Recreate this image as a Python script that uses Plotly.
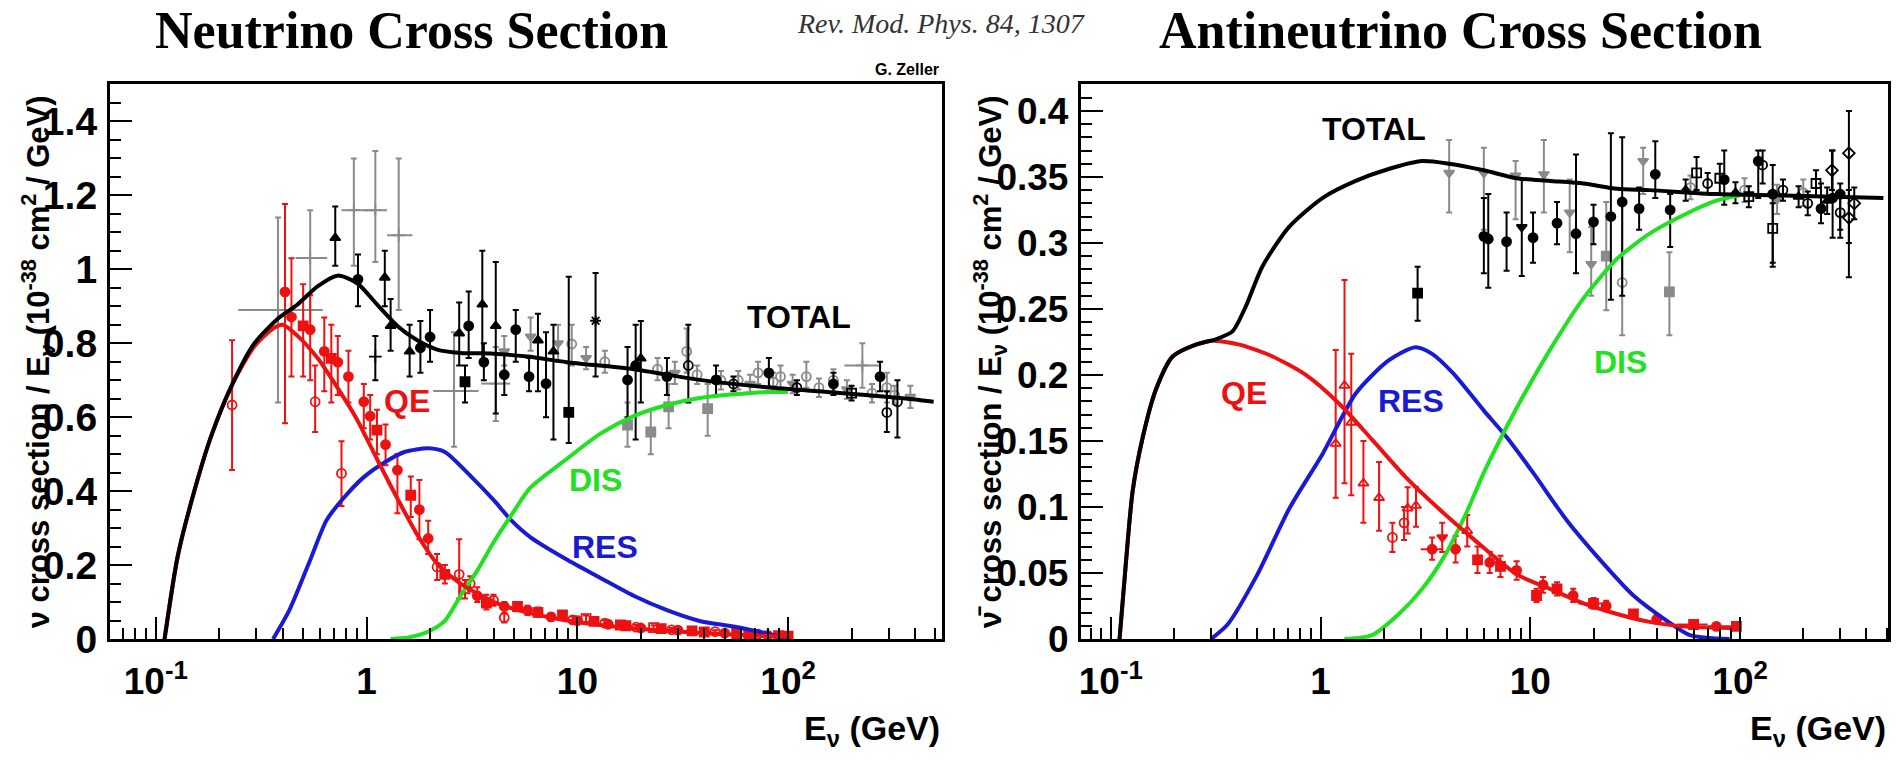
import numpy as np
import plotly.graph_objects as go

# ---------------- Neutrino (left panel) ----------------
nu_total_E = [0.11, 0.127, 0.152, 0.182, 0.227, 0.292, 0.378, 0.47, 0.585, 0.727, 0.9, 1.12, 1.4, 1.74, 2.16, 2.79, 4.0, 5.8, 8.9, 18.5, 38, 79, 164, 340, 490]
nu_total_v = [0, 0.224, 0.399, 0.545, 0.681, 0.798, 0.866, 0.905, 0.954, 0.983, 0.963, 0.905, 0.847, 0.808, 0.783, 0.774, 0.772, 0.764, 0.749, 0.730, 0.701, 0.681, 0.667, 0.652, 0.642]

nu_qe_E = [0.11, 0.127, 0.152, 0.182, 0.227, 0.292, 0.36, 0.40, 0.47, 0.585, 0.727, 0.90, 1.12, 1.40, 1.74, 2.16, 2.79, 4.02, 5.78, 8, 12, 20, 35, 60, 100]
nu_qe_v = [0, 0.224, 0.399, 0.545, 0.681, 0.79, 0.84, 0.85, 0.82, 0.76, 0.68, 0.594, 0.487, 0.38, 0.282, 0.204, 0.15, 0.100, 0.072, 0.055, 0.04, 0.027, 0.018, 0.011, 0.006]

nu_res_E = [0.36, 0.43, 0.54, 0.645, 0.774, 0.97, 1.21, 1.51, 1.96, 2.35, 3.15, 4.02, 4.86, 6.0, 8.9, 12.8, 18.5, 26.6, 38, 55, 79, 98]
nu_res_v = [0, 0.078, 0.214, 0.321, 0.38, 0.438, 0.477, 0.506, 0.516, 0.506, 0.438, 0.375, 0.321, 0.275, 0.215, 0.166, 0.117, 0.078, 0.049, 0.034, 0.015, 0.0]

nu_dis_E = [1.3, 1.6, 1.96, 2.35, 2.79, 3.35, 4.02, 4.86, 6.0, 8.9, 12.8, 18.5, 26.6, 38, 55, 79, 100]
nu_dis_v = [0, 0.005, 0.02, 0.049, 0.117, 0.185, 0.263, 0.335, 0.41, 0.487, 0.555, 0.603, 0.633, 0.652, 0.662, 0.668, 0.668]

# QE measurements (red)
nu_red_E = [0.23, 0.41, 0.44, 0.50, 0.54, 0.57, 0.63, 0.68, 0.73, 0.76, 0.82, 0.97, 1.04, 1.12, 1.23, 1.40, 1.62, 1.78, 1.96, 2.16, 2.35, 2.75, 2.93, 3.1, 3.35, 3.7, 4.0, 4.5, 4.5, 5.2, 5.8, 6.5, 7.5, 8.5, 9.5, 10, 11, 12, 13.5, 14, 16, 17, 19, 20, 23, 25, 28, 30, 35, 40, 45, 50, 57, 65, 72, 80, 90, 100]
nu_red_y = [0.633, 0.939, 0.871, 0.847, 0.837, 0.642, 0.778, 0.759, 0.749, 0.448, 0.71, 0.642, 0.603, 0.565, 0.526, 0.457, 0.389, 0.350, 0.272, 0.195, 0.175, 0.175, 0.136, 0.150, 0.117, 0.097, 0.105, 0.088, 0.058, 0.088, 0.078, 0.072, 0.060, 0.065, 0.052, 0.050, 0.055, 0.048, 0.043, 0.040, 0.038, 0.036, 0.032, 0.030, 0.031, 0.028, 0.025, 0.024, 0.022, 0.019, 0.020, 0.016, 0.015, 0.012, 0.013, 0.010, 0.009, 0.008]
nu_red_lo = [0.457, 0.584, 0.71, 0.71, 0.70, 0.56, 0.67, 0.64, 0.66, 0.36, 0.64, 0.57, 0.54, 0.50, 0.47, 0.34, 0.33, 0.27, 0.23, 0.16, 0.15, 0.11, 0.11, 0.13, 0.10, 0.08, 0.09, 0.07, 0.045, 0.075, 0.065, 0.06, 0.05, 0.055, 0.043, 0.04, 0.046, 0.04, 0.035, 0.033, 0.031, 0.03, 0.026, 0.024, 0.025, 0.023, 0.02, 0.02, 0.018, 0.015, 0.016, 0.013, 0.012, 0.009, 0.010, 0.008, 0.007, 0.006]
nu_red_hi = [0.808, 1.177, 1.03, 0.96, 0.93, 0.74, 0.87, 0.85, 0.82, 0.535, 0.78, 0.69, 0.66, 0.62, 0.58, 0.50, 0.44, 0.43, 0.32, 0.23, 0.20, 0.27, 0.16, 0.17, 0.14, 0.12, 0.12, 0.10, 0.07, 0.10, 0.09, 0.085, 0.07, 0.075, 0.061, 0.06, 0.064, 0.056, 0.051, 0.047, 0.045, 0.042, 0.038, 0.036, 0.037, 0.033, 0.030, 0.028, 0.026, 0.023, 0.024, 0.019, 0.018, 0.015, 0.016, 0.012, 0.011, 0.010]
nu_red_sym = ["circle-open", "circle", "circle", "square", "circle", "circle-open", "circle", "square", "circle", "circle-open", "circle", "circle", "circle", "square", "circle", "circle", "square", "circle", "circle", "circle-open", "square", "circle-open", "square-open", "circle-open", "circle", "square", "circle-open", "circle", "circle-open", "square", "circle", "square", "circle", "square", "circle-open", "circle", "square-open", "square", "circle-open", "circle", "square", "square", "circle-open", "circle", "square-open", "square", "circle-open", "circle", "square", "square", "circle-open", "circle", "square", "square", "circle-open", "circle", "square", "square"]

# black measurements
nu_blk_E = [0.71, 0.91, 1.1, 1.22, 1.3, 1.6, 1.8, 2.0, 2.75, 2.93, 3.05, 3.54, 3.6, 4.1, 4.5, 5.1, 5.9, 6.5, 7.1, 7.7, 9.1, 12.2, 17.3, 18.9, 20, 26.6, 33.6, 45.5, 55, 81, 110, 164, 200, 273, 294, 330]
nu_blk_y = [1.085, 0.973, 0.764, 0.978, 0.847, 0.778, 0.788, 0.817, 0.827, 0.696, 0.847, 0.905, 0.749, 0.847, 0.715, 0.837, 0.71, 0.808, 0.691, 0.778, 0.613, 0.861, 0.701, 0.740, 0.759, 0.71, 0.74, 0.701, 0.69, 0.72, 0.68, 0.69, 0.665, 0.71, 0.613, 0.642]
nu_blk_lo = [1.01, 0.90, 0.70, 0.90, 0.78, 0.71, 0.72, 0.75, 0.74, 0.64, 0.76, 0.75, 0.70, 0.61, 0.66, 0.75, 0.67, 0.67, 0.60, 0.54, 0.53, 0.71, 0.60, 0.54, 0.64, 0.66, 0.64, 0.66, 0.67, 0.68, 0.66, 0.66, 0.645, 0.67, 0.56, 0.545]
nu_blk_hi = [1.17, 1.04, 0.82, 1.05, 0.92, 0.85, 0.86, 0.89, 0.91, 0.74, 0.94, 1.05, 0.80, 1.02, 0.77, 0.89, 0.76, 0.88, 0.83, 0.85, 0.98, 0.99, 0.79, 0.85, 0.86, 0.76, 0.85, 0.74, 0.71, 0.76, 0.70, 0.72, 0.685, 0.75, 0.67, 0.70]
nu_blk_sym = ["triangle-up", "circle", "cross-thin-open", "triangle-up", "triangle-up", "triangle-up", "circle", "circle", "triangle-up", "square", "circle", "triangle-up", "circle", "triangle-up", "circle", "circle", "circle", "triangle-up", "circle", "triangle-up", "square", "asterisk-open", "circle", "circle", "triangle-up", "circle", "circle-open", "circle", "circle-open", "circle", "circle-open", "circle", "square-open", "circle", "circle-open", "circle-open"]

# grey measurements
nu_gry_E = [0.38, 0.54, 0.87, 1.1, 1.42, 2.6, 4.1, 4.5, 6.0, 8.1, 9.4, 11, 13.5, 17.3, 22.3, 24, 27.1, 29, 33, 37, 41.5, 48, 58, 66, 72, 85, 92, 105, 122, 140, 164, 190, 225, 250, 294, 320, 380]
nu_gry_y = [0.89, 1.031, 1.16, 1.16, 1.092, 0.671, 0.691, 0.778, 0.818, 0.80, 0.798, 0.76, 0.75, 0.579, 0.56, 0.73, 0.628, 0.72, 0.778, 0.715, 0.623, 0.70, 0.70, 0.69, 0.72, 0.695, 0.71, 0.69, 0.71, 0.68, 0.70, 0.675, 0.74, 0.665, 0.68, 0.66, 0.655]
nu_gry_lo = [0.64, 0.89, 1.01, 1.02, 0.89, 0.52, 0.59, 0.74, 0.78, 0.75, 0.74, 0.73, 0.72, 0.52, 0.50, 0.70, 0.57, 0.69, 0.72, 0.69, 0.55, 0.675, 0.675, 0.665, 0.69, 0.67, 0.68, 0.665, 0.68, 0.655, 0.67, 0.65, 0.68, 0.64, 0.64, 0.635, 0.625]
nu_gry_hi = [1.14, 1.16, 1.30, 1.32, 1.30, 0.83, 0.79, 0.82, 0.87, 0.85, 0.85, 0.79, 0.78, 0.64, 0.62, 0.76, 0.69, 0.75, 0.84, 0.74, 0.69, 0.725, 0.725, 0.715, 0.75, 0.72, 0.74, 0.715, 0.75, 0.705, 0.73, 0.70, 0.80, 0.69, 0.72, 0.685, 0.685]
nu_gry_xlo = [0.246, 0.46, 0.76, 0.97, 1.25, 2.07, 3.5, 4.5, 6.0, 8.1, 9.4, 11, 13.5, 17.3, 22.3, 24, 27.1, 29, 33, 37, 41.5, 48, 58, 66, 72, 85, 92, 105, 122, 140, 164, 190, 185, 250, 294, 320, 380]
nu_gry_xhi = [0.62, 0.65, 1.12, 1.25, 1.65, 3.4, 4.8, 4.5, 6.0, 8.1, 9.4, 11, 13.5, 17.3, 22.3, 24, 27.1, 29, 33, 37, 41.5, 48, 58, 66, 72, 85, 92, 105, 122, 140, 164, 190, 270, 250, 294, 320, 380]
nu_gry_sym = ["cross-thin-open", "cross-thin-open", "cross-thin-open", "cross-thin-open", "cross-thin-open", "cross-thin-open", "cross-thin-open", "triangle-down", "triangle-down", "triangle-down", "circle-open", "triangle-down", "circle-open", "square", "square", "circle-open", "square", "triangle-down", "circle-open", "circle-open", "square", "circle-open", "circle-open", "triangle-down", "circle-open", "circle-open", "circle-open", "triangle-down", "circle-open", "circle-open", "circle-open", "triangle-down", "cross-thin-open", "circle-open", "circle-open", "circle-open", "triangle-down"]

# ---------------- Antineutrino (right panel) ----------------
nb_total_E = [0.11, 0.118, 0.127, 0.142, 0.164, 0.197, 0.254, 0.316, 0.38, 0.44, 0.527, 0.706, 1.02, 1.47, 2.11, 3.05, 4.1, 6.0, 8.6, 12.4, 17.9, 25.9, 37, 77, 161, 482]
nb_total_v = [0, 0.058, 0.112, 0.153, 0.189, 0.214, 0.223, 0.227, 0.233, 0.252, 0.282, 0.312, 0.334, 0.347, 0.356, 0.362, 0.360, 0.355, 0.349, 0.347, 0.345, 0.341, 0.340, 0.337, 0.336, 0.334]

nb_qe_E = [0.11, 0.118, 0.127, 0.142, 0.164, 0.197, 0.254, 0.305, 0.41, 0.59, 0.85, 1.23, 1.76, 2.53, 3.64, 5.24, 8.6, 12.4, 17.9, 25.9, 37, 53, 100]
nb_qe_v = [0, 0.058, 0.112, 0.153, 0.189, 0.214, 0.223, 0.226, 0.223, 0.214, 0.2, 0.178, 0.151, 0.123, 0.099, 0.077, 0.049, 0.038, 0.027, 0.019, 0.013, 0.0096, 0.008]

nb_res_E = [0.3, 0.36, 0.5, 0.71, 1.02, 1.47, 2.11, 2.83, 3.4, 4.3, 6.0, 7.7, 10.3, 14.9, 21.5, 31, 44.6, 57.6, 89]
nb_res_v = [0, 0.011, 0.049, 0.099, 0.14, 0.186, 0.211, 0.221, 0.216, 0.201, 0.173, 0.153, 0.126, 0.09, 0.06, 0.033, 0.014, 0.003, 0]

nb_dis_E = [1.3, 1.76, 2.36, 3.05, 3.9, 5.0, 6.0, 8.6, 12.4, 17.9, 25.9, 37, 53.5, 77, 100]
nb_dis_v = [0, 0.003, 0.019, 0.038, 0.063, 0.097, 0.126, 0.175, 0.219, 0.258, 0.288, 0.307, 0.321, 0.332, 0.336]

nb_red_E = [1.18, 1.3, 1.4, 1.6, 1.9, 2.2, 2.5, 2.6, 2.85, 3.4, 3.8, 4.4, 5.0, 5.6, 6.4, 7.2, 8.6, 10.7, 11.5, 13.4, 16, 20, 23, 31, 40, 60, 77, 96]
nb_red_y = [0.148, 0.192, 0.164, 0.118, 0.107, 0.077, 0.088, 0.099, 0.101, 0.068, 0.077, 0.068, 0.082, 0.060, 0.058, 0.055, 0.052, 0.033, 0.041, 0.038, 0.033, 0.027, 0.025, 0.019, 0.015, 0.011, 0.0096, 0.0096]
nb_red_lo = [0.107, 0.118, 0.109, 0.088, 0.082, 0.066, 0.075, 0.08, 0.085, 0.06, 0.066, 0.058, 0.07, 0.05, 0.05, 0.047, 0.045, 0.028, 0.035, 0.033, 0.028, 0.023, 0.021, 0.016, 0.012, 0.008, 0.007, 0.007]
nb_red_hi = [0.219, 0.272, 0.216, 0.15, 0.134, 0.088, 0.10, 0.115, 0.115, 0.077, 0.088, 0.078, 0.094, 0.07, 0.066, 0.063, 0.059, 0.038, 0.047, 0.043, 0.038, 0.031, 0.029, 0.022, 0.018, 0.014, 0.012, 0.012]
nb_red_xlo = [1.18, 1.3, 1.4, 1.6, 1.9, 2.2, 2.5, 2.6, 2.85, 3.0, 3.8, 4.4, 5.0, 5.6, 6.4, 7.2, 8.6, 10.7, 11.5, 13.4, 16, 17, 23, 31, 40, 50, 77, 70]
nb_red_xhi = [1.18, 1.3, 1.4, 1.6, 1.9, 2.2, 2.5, 2.6, 2.85, 3.8, 3.8, 4.4, 5.0, 5.6, 6.4, 7.2, 8.6, 10.7, 11.5, 13.4, 16, 24, 23, 31, 40, 70, 77, 100]
nb_red_sym = ["triangle-up-open", "triangle-up-open", "triangle-up-open", "triangle-up-open", "triangle-up-open", "circle-open", "circle-open", "triangle-up-open", "triangle-up-open", "circle", "triangle-down", "circle", "triangle-up-open", "square", "circle", "square", "circle", "square", "circle", "square", "circle", "square", "circle", "square", "circle", "square", "circle", "square"]

nb_blk_E = [2.9, 6.0, 6.3, 7.7, 9.1, 10.3, 13.4, 16.5, 20, 24.2, 27.4, 33, 39.4, 46.4, 84, 122, 143, 243, 276, 300, 143, 274, 300, 330, 330, 62, 80, 128, 55, 70, 95, 110, 160, 190, 210, 230, 260, 350]
nb_blk_y = [0.262, 0.305, 0.303, 0.301, 0.312, 0.304, 0.315, 0.307, 0.316, 0.32, 0.331, 0.326, 0.352, 0.325, 0.348, 0.362, 0.337, 0.326, 0.334, 0.337, 0.311, 0.355, 0.323, 0.368, 0.319, 0.353, 0.349, 0.359, 0.340, 0.345, 0.338, 0.335, 0.340, 0.335, 0.330, 0.345, 0.332, 0.330]
nb_blk_lo = [0.241, 0.277, 0.266, 0.279, 0.275, 0.285, 0.299, 0.277, 0.299, 0.257, 0.26, 0.31, 0.334, 0.297, 0.329, 0.334, 0.282, 0.315, 0.304, 0.304, 0.285, 0.34, 0.31, 0.274, 0.30, 0.34, 0.337, 0.345, 0.332, 0.337, 0.330, 0.327, 0.332, 0.327, 0.321, 0.335, 0.322, 0.318]
nb_blk_hi = [0.282, 0.334, 0.337, 0.323, 0.348, 0.323, 0.331, 0.367, 0.329, 0.383, 0.38, 0.342, 0.377, 0.337, 0.37, 0.37, 0.359, 0.345, 0.37, 0.345, 0.33, 0.37, 0.335, 0.40, 0.34, 0.365, 0.36, 0.37, 0.348, 0.353, 0.346, 0.343, 0.348, 0.343, 0.339, 0.355, 0.342, 0.342]
nb_blk_sym = ["square", "circle", "circle", "circle", "triangle-down", "circle", "circle", "circle", "circle", "circle", "circle", "circle", "circle", "circle", "circle", "circle", "circle", "circle", "circle", "circle", "square-open", "diamond-open", "circle-open", "diamond-open", "diamond-open", "square-open", "square-open", "circle-open", "triangle-up", "circle-open", "triangle-up", "square-open", "circle-open", "triangle-up", "circle-open", "square-open", "triangle-up", "diamond-open"]

nb_gry_E = [4.1, 6.0, 8.5, 11.6, 15.4, 19.5, 23, 27.4, 34.5, 46, 58, 105, 150, 200]
nb_gry_y = [0.353, 0.353, 0.351, 0.352, 0.323, 0.284, 0.29, 0.27, 0.362, 0.263, 0.342, 0.34, 0.333, 0.338]
nb_gry_lo = [0.323, 0.31, 0.318, 0.323, 0.293, 0.26, 0.249, 0.23, 0.337, 0.23, 0.333, 0.331, 0.322, 0.328]
nb_gry_hi = [0.378, 0.372, 0.362, 0.378, 0.348, 0.312, 0.331, 0.331, 0.372, 0.293, 0.351, 0.349, 0.344, 0.348]
nb_gry_sym = ["triangle-down", "triangle-down", "triangle-down", "triangle-down", "triangle-down", "triangle-down", "square", "circle-open", "triangle-down", "square", "circle-open", "circle-open", "triangle-down", "circle-open"]

# tick labels
x_tick_vals = [0.1, 1, 10, 100]
x_tick_text = ["10<sup>-1</sup>", "1", "10", "10<sup>2</sup>"]
nu_y_ticks = [0, 0.2, 0.4, 0.6, 0.8, 1.0, 1.2, 1.4]
nu_y_text = ["0", "0.2", "0.4", "0.6", "0.8", "1", "1.2", "1.4"]
nb_y_ticks = [0, 0.05, 0.1, 0.15, 0.2, 0.25, 0.3, 0.35, 0.4]
nb_y_text = ["0", "0.05", "0.1", "0.15", "0.2", "0.25", "0.3", "0.35", "0.4"]

# ---------------- layout geometry (full page pixels) ----------------
W, H = 1898, 764


def px(x):
    return x / W


def py(y):
    return 1 - y / H


RED = "#ee1111"
BLUE = "#1a1ad2"
GREEN = "#22e022"
GREY = "#8a8a8a"
SANS = "Liberation Sans, Arial, Helvetica, sans-serif"
SERIF = "Liberation Serif, Times New Roman, serif"

fig = go.Figure()


def add_points(E, y, lo, hi, sym, color, xa, ya, xlo=None, xhi=None, size=9):
    y = np.array(y)
    err_p = np.array(hi) - y
    err_m = y - np.array(lo)
    kw = {}
    if xlo is not None:
        Ea = np.array(E)
        kw["error_x"] = dict(type="data", symmetric=False, array=np.array(xhi) - Ea,
                             arrayminus=Ea - np.array(xlo), color=color, thickness=2, width=0)
    fig.add_trace(go.Scatter(
        x=E, y=y, mode="markers", xaxis=xa, yaxis=ya, showlegend=False, hoverinfo="skip",
        marker=dict(symbol=sym, size=size, color=color, line=dict(color=color, width=1.8)),
        error_y=dict(type="data", symmetric=False, array=err_p, arrayminus=err_m,
                     color=color, thickness=2, width=3),
        **kw))


def add_curve(E, v, color, xa, ya):
    fig.add_trace(go.Scatter(x=E, y=v, mode="lines", xaxis=xa, yaxis=ya, showlegend=False,
                             hoverinfo="skip",
                             line=dict(color=color, width=4, shape="spline", smoothing=0.7)))


# left panel
add_points(nu_gry_E, nu_gry_y, nu_gry_lo, nu_gry_hi, nu_gry_sym, GREY, "x", "y", nu_gry_xlo, nu_gry_xhi)
add_points(nu_blk_E, nu_blk_y, nu_blk_lo, nu_blk_hi, nu_blk_sym, "black", "x", "y")
add_points(nu_red_E, nu_red_y, nu_red_lo, nu_red_hi, nu_red_sym, RED, "x", "y")
add_curve(nu_res_E, nu_res_v, BLUE, "x", "y")
add_curve(nu_dis_E, nu_dis_v, GREEN, "x", "y")
add_curve(nu_qe_E, nu_qe_v, RED, "x", "y")
add_curve(nu_total_E, nu_total_v, "black", "x", "y")

# right panel
add_points(nb_gry_E, nb_gry_y, nb_gry_lo, nb_gry_hi, nb_gry_sym, GREY, "x2", "y2")
add_points(nb_blk_E, nb_blk_y, nb_blk_lo, nb_blk_hi, nb_blk_sym, "black", "x2", "y2")
add_points(nb_red_E, nb_red_y, nb_red_lo, nb_red_hi, nb_red_sym, RED, "x2", "y2", nb_red_xlo, nb_red_xhi)
add_curve(nb_res_E, nb_res_v, BLUE, "x2", "y2")
add_curve(nb_dis_E, nb_dis_v, GREEN, "x2", "y2")
add_curve(nb_qe_E, nb_qe_v, RED, "x2", "y2")
add_curve(nb_total_E, nb_total_v, "black", "x2", "y2")


def minor_log_vals(lo, hi):
    vals = []
    for d in range(int(np.floor(lo)) - 1, int(np.ceil(hi)) + 1):
        for m in range(2, 10):
            v = m * 10.0 ** d
            if 10 ** lo < v < 10 ** hi:
                vals.append(v)
    return vals


axis_common = dict(showgrid=False, zeroline=False, showline=True, linewidth=3, linecolor="black",
                   mirror=True, ticks="inside", tickwidth=2, tickcolor="black", ticklen=22)
minor_common = dict(ticks="inside", ticklen=11, tickwidth=2, tickcolor="black", showgrid=False)

nu_xrange = [-1.218, 2.730]
nb_xrange = [-1.143, 2.705]
ybot, ytop = py(658), py(87)

fig.update_layout(
    width=W, height=H, margin=dict(l=0, r=0, t=0, b=0),
    paper_bgcolor="white", plot_bgcolor="white",
    xaxis=dict(axis_common, type="log", range=nu_xrange, domain=[px(108), px(941)], anchor="y",
               tickmode="array", tickvals=x_tick_vals, ticktext=["<b>%s</b>" % t for t in x_tick_text],
               ticklabelstandoff=8, tickfont=dict(family=SANS, size=37, color="black"),
               minor=dict(minor_common, tickmode="array", tickvals=minor_log_vals(*nu_xrange))),
    yaxis=dict(axis_common, range=[0, 1.5], domain=[ybot, ytop], anchor="x",
               tickmode="array", tickvals=nu_y_ticks, ticktext=["<b>%s</b>" % t for t in nu_y_text],
               ticklabelstandoff=2, tickfont=dict(family=SANS, size=39, color="black"),
               minor=dict(minor_common, dtick=0.05)),
    xaxis2=dict(axis_common, type="log", range=nb_xrange, domain=[px(1080), px(1888)], anchor="y2",
                tickmode="array", tickvals=x_tick_vals, ticktext=["<b>%s</b>" % t for t in x_tick_text],
                ticklabelstandoff=8, tickfont=dict(family=SANS, size=37, color="black"),
                minor=dict(minor_common, tickmode="array", tickvals=minor_log_vals(*nb_xrange))),
    yaxis2=dict(axis_common, range=[0, 0.42], domain=[ybot, ytop], anchor="x2",
                tickmode="array", tickvals=nb_y_ticks, ticktext=["<b>%s</b>" % t for t in nb_y_text],
                ticklabelstandoff=2, tickfont=dict(family=SANS, size=37, color="black"),
                minor=dict(minor_common, dtick=0.01)),
)

ann = []
# titles
ann.append(dict(text="<b>Neutrino Cross Section</b>", x=px(410), y=1, xref="paper", yref="paper",
                showarrow=False, xanchor="center", yanchor="top",
                font=dict(family=SERIF, size=52, color="black")))
ann.append(dict(text="<b>Antineutrino Cross Section</b>", x=px(1460), y=1, xref="paper", yref="paper",
                showarrow=False, xanchor="center", yanchor="top",
                font=dict(family=SERIF, size=52, color="black")))
ann.append(dict(text="<i>Rev. Mod. Phys. 84, 1307</i>", x=px(940), y=py(24), xref="paper", yref="paper",
                showarrow=False, xanchor="center", yanchor="middle",
                font=dict(family=SERIF, size=28, color="#333333")))
ann.append(dict(text="<b>G. Zeller</b>", x=px(940), y=py(72), xref="paper", yref="paper",
                showarrow=False, xanchor="right", yanchor="middle",
                font=dict(family=SANS, size=16, color="black")))
# axis titles
ann.append(dict(text="<b>ν cross section / E<sub>ν</sub> (10<sup>-38</sup> cm<sup>2</sup> / GeV)</b>",
                x=px(36), y=py(372), xref="paper", yref="paper", textangle=-90, showarrow=False,
                xanchor="center", yanchor="middle", font=dict(family=SANS, size=31, color="black")))
ann.append(dict(text="<b>ν\u0304 cross section / E<sub>ν</sub> (10<sup>-38</sup> cm<sup>2</sup> / GeV)</b>",
                x=px(989), y=py(372), xref="paper", yref="paper", textangle=-90, showarrow=False,
                xanchor="center", yanchor="middle", font=dict(family=SANS, size=31, color="black")))
ann.append(dict(text="<b>E<sub>ν</sub> (GeV)</b>", x=px(941), y=0, xref="paper", yref="paper",
                showarrow=False, xanchor="right", yanchor="bottom", yshift=-12,
                font=dict(family=SANS, size=34, color="black")))
ann.append(dict(text="<b>E<sub>ν</sub> (GeV)</b>", x=px(1888), y=0, xref="paper", yref="paper",
                showarrow=False, xanchor="right", yanchor="bottom", yshift=-12,
                font=dict(family=SANS, size=34, color="black")))

# curve labels (data coordinates; log axes use log10 for x)
labels = [
    ("TOTAL", 112, 0.87, "black", "x", "y"),
    ("QE", 1.56, 0.645, RED, "x", "y"),
    ("DIS", 12.2, 0.43, GREEN, "x", "y"),
    ("RES", 13.5, 0.25, BLUE, "x", "y"),
    ("TOTAL", 1.79, 0.386, "black", "x2", "y2"),
    ("QE", 0.43, 0.186, RED, "x2", "y2"),
    ("RES", 2.7, 0.18, BLUE, "x2", "y2"),
    ("DIS", 26.8, 0.21, GREEN, "x2", "y2"),
]
for t, xe, yv, c, xa, ya in labels:
    ann.append(dict(text="<b>%s</b>" % t, x=np.log10(xe), y=yv, xref=xa, yref=ya, showarrow=False,
                    xanchor="center", yanchor="middle", font=dict(family=SANS, size=32, color=c)))

fig.update_layout(annotations=ann)

# remove the default 8px page margin so the figure fills the 1898x764 window exactly; hide the modebar
fig.write_html("out.html", config={"displayModeBar": False},
               post_script="document.body.style.margin='0px';")
